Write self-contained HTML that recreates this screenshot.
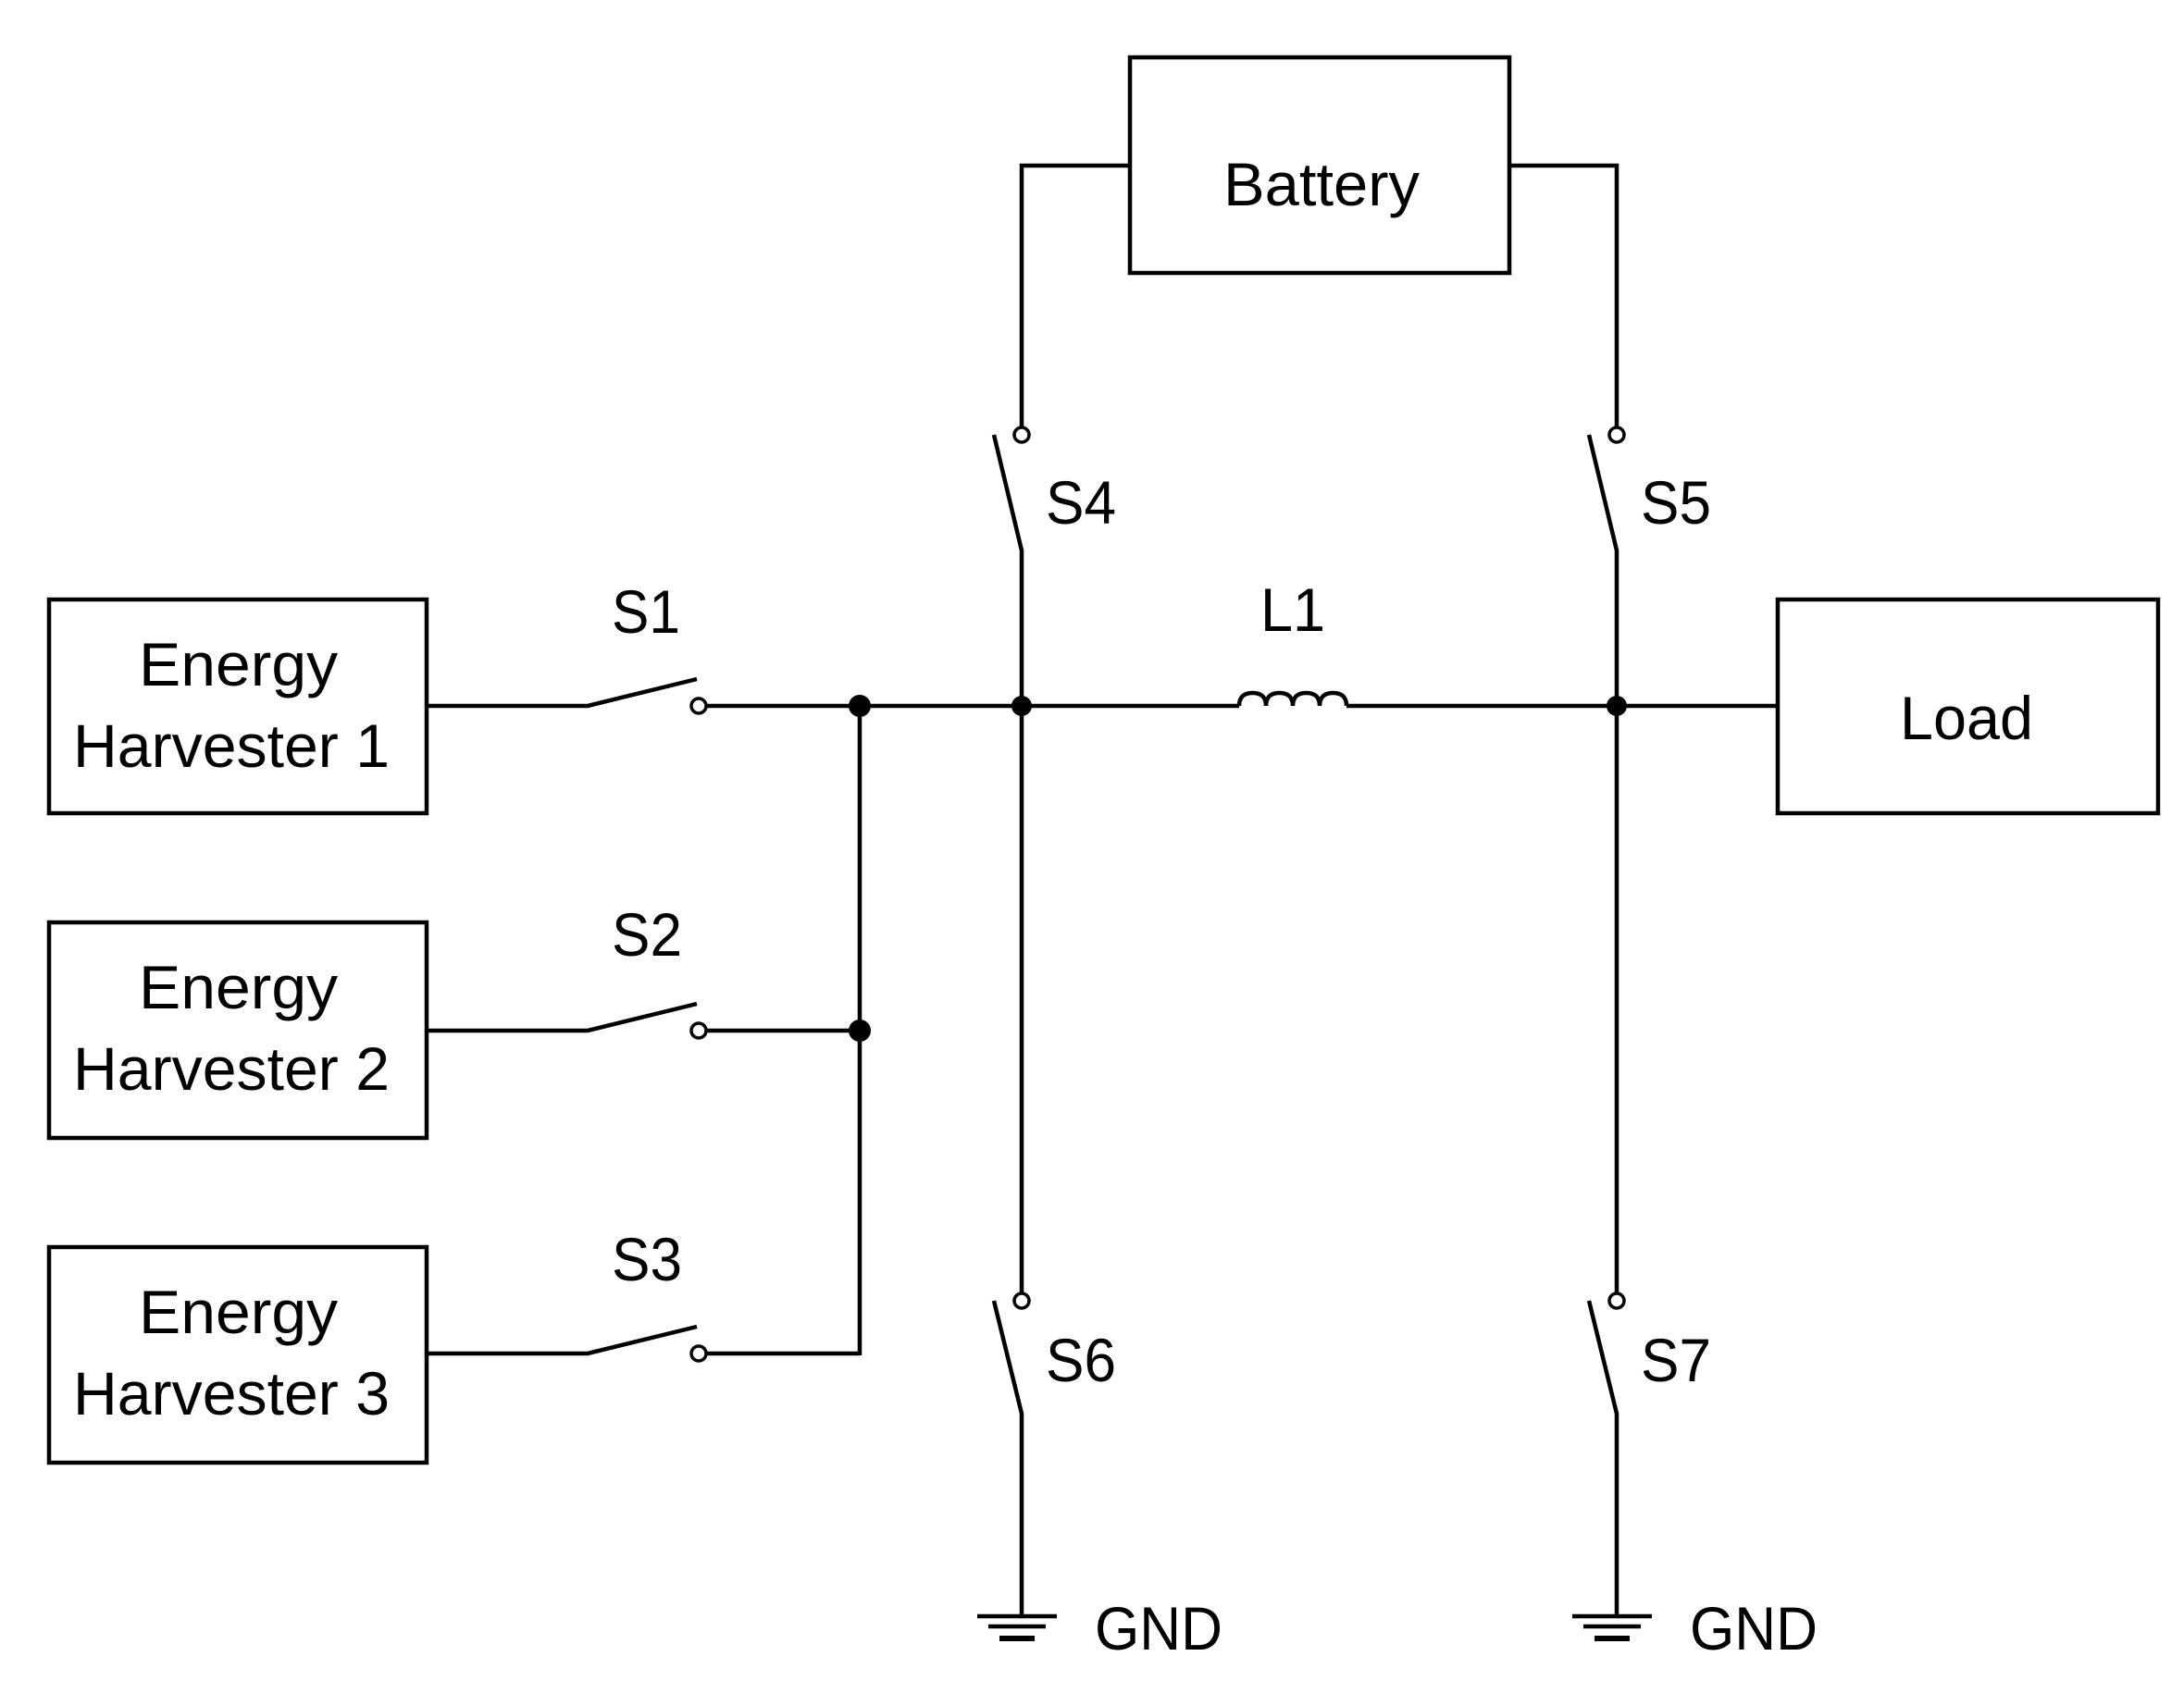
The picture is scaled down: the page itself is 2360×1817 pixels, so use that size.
<!DOCTYPE html>
<html><head><meta charset="utf-8"><style>html,body{margin:0;padding:0;background:#fff;width:2360px;height:1817px;overflow:hidden}</style></head>
<body>
<svg width="2360" height="1817" viewBox="0 0 2360 1817" xmlns="http://www.w3.org/2000/svg">
<g fill="none" stroke="#000" stroke-width="4.5">
<rect x="53" y="648" width="408" height="231"/>
<rect x="53" y="997" width="408" height="233"/>
<rect x="53" y="1348" width="408" height="233"/>
<rect x="1221" y="62" width="410" height="233"/>
<rect x="1921" y="648" width="411" height="231"/>
<polyline points="461,763 635,763 753,734"/>
<polyline points="461,1114 635,1114 753,1085"/>
<polyline points="461,1463 635,1463 753,1434"/>
<circle cx="755" cy="763" r="8" stroke-width="3.5"/>
<circle cx="755" cy="1114" r="8" stroke-width="3.5"/>
<circle cx="755" cy="1463" r="8" stroke-width="3.5"/>
<line x1="763" y1="763" x2="1339" y2="763"/>
<line x1="763" y1="1114" x2="929" y2="1114"/>
<line x1="763" y1="1463" x2="929" y2="1463"/>
<line x1="929" y1="763" x2="929" y2="1465"/>
<path d="M1339,763 q0,-14 14.5,-14 q14.5,0 14.5,14 q0,-14 14.5,-14 q14.5,0 14.5,14 q0,-14 14.5,-14 q14.5,0 14.5,14 q0,-14 14.5,-14 q14.5,0 14.5,14"/>
<line x1="1455" y1="763" x2="1921" y2="763"/>
<polyline points="1221,179 1104,179 1104,462"/>
<polyline points="1631,179 1747,179 1747,462"/>
<circle cx="1104" cy="470" r="8" stroke-width="3.5"/>
<circle cx="1747" cy="470" r="8" stroke-width="3.5"/>
<polyline points="1074,470 1104,595 1104,1398"/>
<polyline points="1717,470 1747,595 1747,1398"/>
<circle cx="1104" cy="1406" r="8" stroke-width="3.5"/>
<circle cx="1747" cy="1406" r="8" stroke-width="3.5"/>
<polyline points="1074,1406 1104,1528 1104,1747"/>
<polyline points="1717,1406 1747,1528 1747,1747"/>
<line x1="1056" y1="1747" x2="1142" y2="1747"/>
<line x1="1068" y1="1758" x2="1130" y2="1758"/>
<line x1="1080" y1="1771" x2="1118" y2="1771" stroke-width="6"/>
<line x1="1699" y1="1747" x2="1785" y2="1747"/>
<line x1="1711" y1="1758" x2="1773" y2="1758"/>
<line x1="1723" y1="1771" x2="1761" y2="1771" stroke-width="6"/>
</g>
<g fill="#000">
<circle cx="929" cy="763" r="12"/>
<circle cx="929" cy="1114" r="12"/>
<circle cx="1104" cy="763" r="11"/>
<circle cx="1747" cy="763" r="11"/>
</g>
<g font-family="'Liberation Sans', sans-serif" font-size="66" fill="#000">
<text x="150" y="741" textLength="215" lengthAdjust="spacingAndGlyphs">Energy</text>
<text x="79" y="829" textLength="342" lengthAdjust="spacingAndGlyphs">Harvester 1</text>
<text x="150" y="1090" textLength="215" lengthAdjust="spacingAndGlyphs">Energy</text>
<text x="79" y="1178" textLength="342" lengthAdjust="spacingAndGlyphs">Harvester 2</text>
<text x="150" y="1441" textLength="215" lengthAdjust="spacingAndGlyphs">Energy</text>
<text x="79" y="1529" textLength="342" lengthAdjust="spacingAndGlyphs">Harvester 3</text>
<text x="1322" y="222" textLength="212" lengthAdjust="spacingAndGlyphs">Battery</text>
<text x="2053" y="799" textLength="144" lengthAdjust="spacingAndGlyphs">Load</text>
<text x="661" y="684" textLength="74" lengthAdjust="spacingAndGlyphs">S1</text>
<text x="661" y="1033" textLength="76" lengthAdjust="spacingAndGlyphs">S2</text>
<text x="661" y="1384" textLength="76" lengthAdjust="spacingAndGlyphs">S3</text>
<text x="1130" y="566" textLength="76" lengthAdjust="spacingAndGlyphs">S4</text>
<text x="1773" y="566" textLength="76" lengthAdjust="spacingAndGlyphs">S5</text>
<text x="1362" y="682" textLength="70" lengthAdjust="spacingAndGlyphs">L1</text>
<text x="1130" y="1493" textLength="76" lengthAdjust="spacingAndGlyphs">S6</text>
<text x="1773" y="1493" textLength="76" lengthAdjust="spacingAndGlyphs">S7</text>
<text x="1183" y="1783" textLength="138" lengthAdjust="spacingAndGlyphs">GND</text>
<text x="1826" y="1783" textLength="138" lengthAdjust="spacingAndGlyphs">GND</text>
</g>
</svg>
</body></html>
